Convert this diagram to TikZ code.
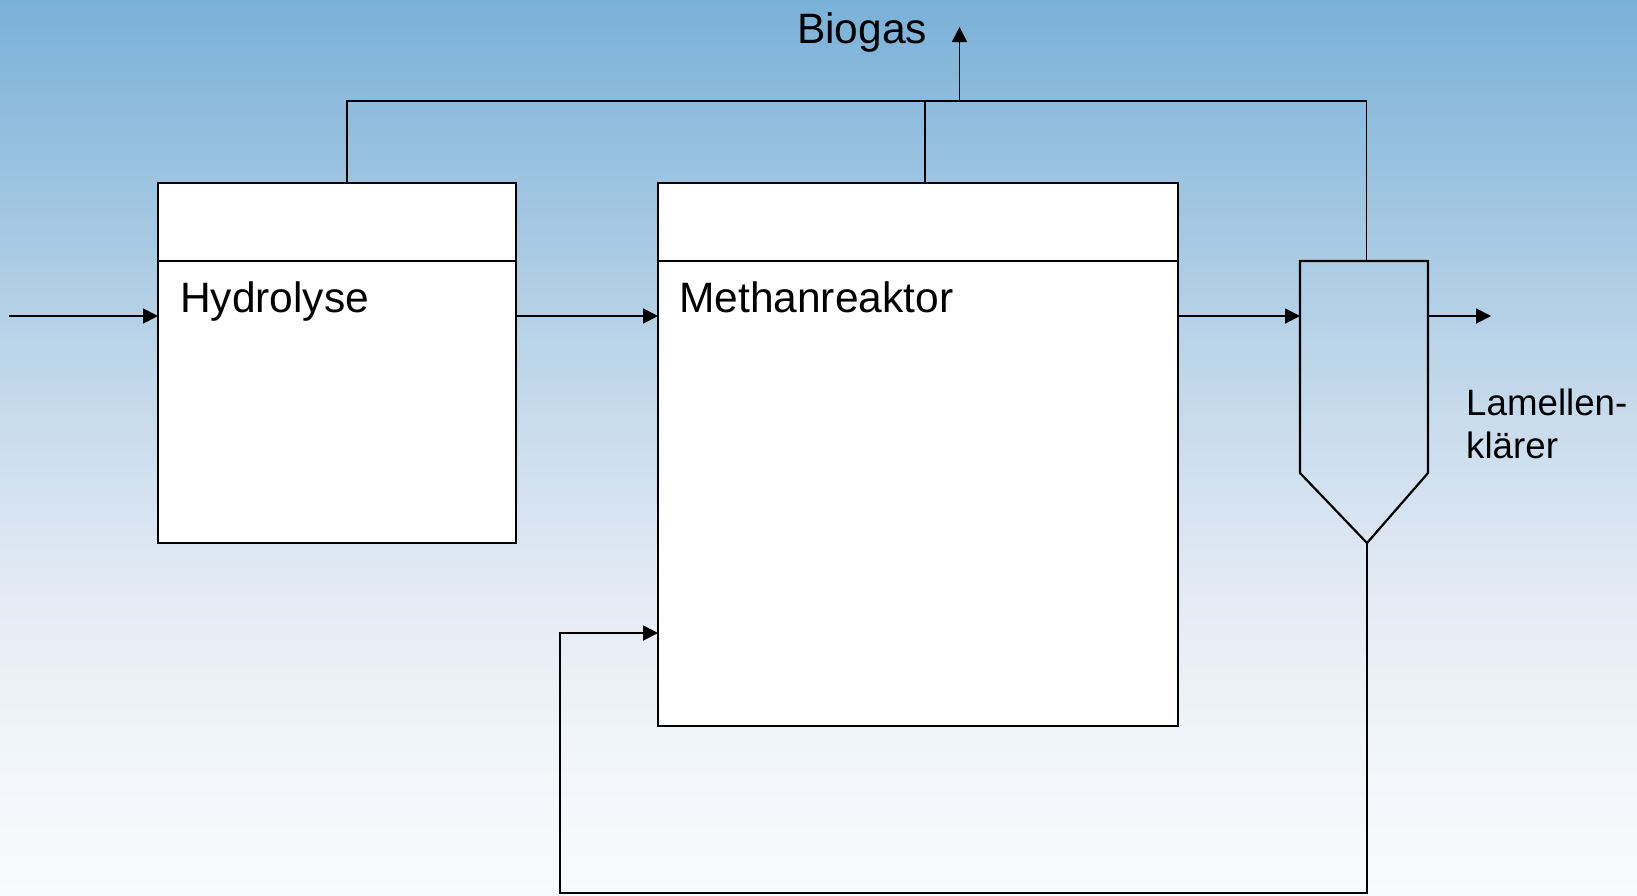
\documentclass[tikz,border=0pt]{standalone}
\usepackage{fontspec}
\setmainfont{Liberation Sans}
\usetikzlibrary{arrows.meta,calc}
\definecolor{skyA}{RGB}{122,177,216}
\definecolor{skyB}{RGB}{178,207,230}
\definecolor{skyC}{RGB}{205,222,238}
\definecolor{skyD}{RGB}{228,235,244}
\definecolor{skyE}{RGB}{242,246,250}
\definecolor{skyF}{RGB}{248,251,253}
% sky-blue backdrop fading to white (path spans 25bp..75bp)
\pgfdeclareverticalshading{skyfade}{100bp}{%
  color(0bp)=(skyF); color(25bp)=(skyF); color(32.5bp)=(skyE);
  color(41.5bp)=(skyD); color(50bp)=(skyC); color(58.5bp)=(skyB);
  color(75bp)=(skyA); color(100bp)=(skyA)}
\tikzset{
  vessel/.style={draw=black, fill=white, line width=2.2pt, rectangle, inner sep=0pt, outer sep=0pt, anchor=north west},
  vesselline/.style={draw=black, line width=2.2pt, line join=miter},
  pipe/.style={draw=black, line width=1.8pt},
  flow/.style={pipe, -{Triangle[length=15pt,width=15pt]}},
  thinflow/.style={draw=black, line width=1.5pt, -{Triangle[length=15pt,width=15pt]}},
  biglabel/.style={font=\fontsize{42.5}{50}\selectfont, inner sep=0pt, anchor=base west},
  sidelabel/.style={font=\fontsize{36.7}{43}\selectfont, inner sep=0pt, anchor=base west},
}
\begin{document}
\begin{tikzpicture}[x=1pt,y=-1pt]
  \useasboundingbox (0,0) rectangle (1637,895);
  \shade[shading=skyfade] (0,0) rectangle (1637,895);

  % reactors
  \node[vessel, minimum width=358pt, minimum height=360pt] (hyd) at (158,183) {};
  \node[vessel, minimum width=520pt, minimum height=543pt] (meth) at (658,183) {};
  \draw[vesselline] ($(hyd.north west)+(0,78)$) -- ($(hyd.north east)+(0,78)$);
  \draw[vesselline] ($(meth.north west)+(0,78)$) -- ($(meth.north east)+(0,78)$);

  % lamella clarifier
  \coordinate (clTL) at (1300,261);
  \coordinate (clTR) at (1428,261);
  \coordinate (clBR) at (1428,473);
  \coordinate (clTip) at (1367,543);
  \coordinate (clBL) at (1300,473);
  \draw[vesselline] (clTL) -- (clTR) -- (clBR) -- (clTip) -- (clBL) -- cycle;

  % labels
  \node[biglabel] (hydtxt) at (180,312) {Hydrolyse};
  \node[biglabel] (methtxt) at (679,312) {Methanreaktor};
  \node[biglabel] (gastxt) at (797,43) {Biogas};
  \node[sidelabel] (lam1) at (1466,415) {Lamellen-};
  \node[sidelabel] (lam2) at (1466,458) {klärer};

  % liquid flow
  \coordinate (feed) at (9,316);
  \coordinate (effluent) at (1491,316);
  \draw[flow] (feed) -- (feed -| hyd.west);
  \draw[flow] (feed -| hyd.east) -- (feed -| meth.west);
  \draw[flow] (feed -| meth.east) -- (feed -| clTL);
  \draw[flow] (feed -| clTR) -- (effluent);

  % sludge recycle
  \coordinate (recycle) at (560,893);
  \draw[flow] (clTip) |- (recycle) |- ($(meth.north west)+(0,450)$);

  % biogas collection
  \coordinate (gasline) at (0,101);
  \coordinate (gasout) at (959.5,27);
  \coordinate (hydgas) at ($(hyd.north west)+(189,0)$);
  \coordinate (methgas) at ($(meth.north west)+(267,0)$);
  \coordinate (clgas) at ($(clTL)!0.52!(clTR)$);
  \draw[pipe] (hydgas) |- (gasline -| clgas) -- (clgas);
  \draw[pipe] (methgas) -- (methgas |- gasline);
  \draw[thinflow] (gasout |- gasline) -- (gasout);
\end{tikzpicture}
\end{document}
